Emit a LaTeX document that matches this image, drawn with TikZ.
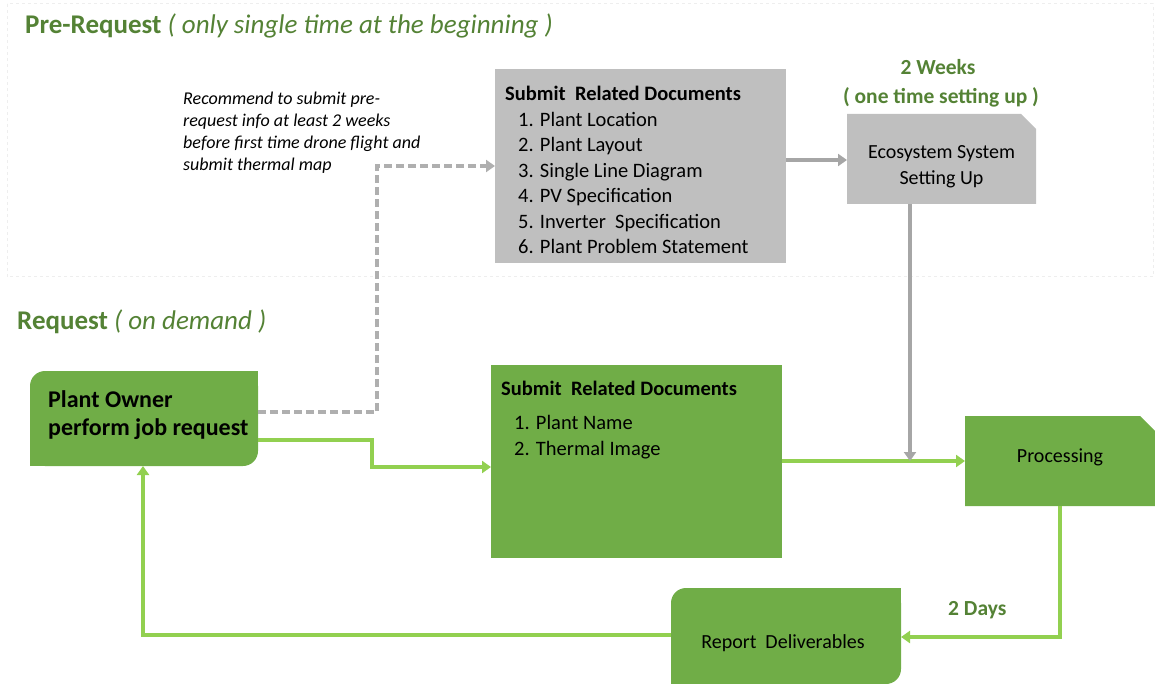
\documentclass[tikz,border=0pt]{standalone}
\usepackage{fontspec}
\setmainfont{Carlito}
\usetikzlibrary{arrows.meta}
\definecolor{boxgreen}{HTML}{70AD47}
\definecolor{linegreen}{HTML}{92D050}
\definecolor{titlegreen}{HTML}{548235}
\definecolor{boxgray}{HTML}{BFBFBF}
\definecolor{linegray}{HTML}{A6A6A6}
\definecolor{framegray}{HTML}{EEEEEE}
\begin{document}
\begin{tikzpicture}[x=1pt,y=-1pt,
  boxshape/.style={rectangle,inner sep=0pt,outer sep=0pt,minimum width=#1},
  gline/.style={draw=linegreen,line width=3.2pt,-{Triangle[width=12pt,length=9pt]}},
  grline/.style={draw=linegray,line width=3.2pt,-{Triangle[width=12pt,length=9pt]}},
  dline/.style={draw=linegray!90,line width=3.2pt,dash pattern=on 8pt off 4pt,-{Triangle[width=12pt,length=9pt]}},
  title/.style={text=titlegreen,inner sep=0pt,anchor=base west},
  body/.style={inner sep=0pt,text=black}]
\useasboundingbox (0,0) rectangle (1155,684);
% faint frame of the pre-request area
\draw[framegray,line width=1pt,dashed] (7,4) rectangle (1153,277);

% box nodes
\node[boxshape=291pt,minimum height=194pt] (docs) at (640.5,166) {};
\node[boxshape=189pt,minimum height=90pt] (eco) at (941.5,159) {};
\node[boxshape=228pt,minimum height=95pt] (po) at (144,418.5) {};
\node[boxshape=291pt,minimum height=193pt] (sub) at (636.5,461.5) {};
\node[boxshape=190pt,minimum height=90pt] (proc) at (1060,461) {};
\node[boxshape=230pt,minimum height=96pt] (rep) at (786,636) {};

% fills
\fill[boxgray] (docs.north west) rectangle (docs.south east);
\fill[boxgray] (eco.north west) -- ([xshift=-15pt]eco.north east) -- ([yshift=-15pt]eco.north east) -- (eco.south east) -- (eco.south west) -- cycle;
\fill[boxgreen] (proc.north west) -- ([xshift=-15pt]proc.north east) -- ([yshift=-15pt]proc.north east) -- (proc.south east) -- (proc.south west) -- cycle;
\fill[boxgreen] (sub.north west) rectangle (sub.south east);
\fill[boxgreen,rounded corners=15pt] (po.north west) rectangle (po.south east);
\fill[boxgreen] (po.north east) rectangle ([xshift=-20pt,yshift=-20pt]po.north east);
\fill[boxgreen] (po.south west) rectangle ([xshift=20pt,yshift=20pt]po.south west);
\fill[boxgreen,rounded corners=15pt] (rep.north west) rectangle (rep.south east);
\fill[boxgreen] (rep.north east) rectangle ([xshift=-20pt,yshift=-20pt]rep.north east);
\fill[boxgreen] (rep.south west) rectangle ([xshift=20pt,yshift=20pt]rep.south west);

% titles
\node[title,font=\fontsize{27}{30}\selectfont] (t1) at (25,34) {\textbf{Pre-Request} \textit{( only single time at the beginning )}};
\node[title,font=\fontsize{27}{30}\selectfont] (t2) at (17,329) {\textbf{Request} \textit{( on demand )}};
\node[text=titlegreen,inner sep=0pt,anchor=base,font=\fontsize{21.5}{28}\selectfont\bfseries] (wk) at (938,75) {2 Weeks};
\node[text=titlegreen,inner sep=0pt,anchor=base,font=\fontsize{21.5}{28}\selectfont\bfseries] (wk2) at (941,104) {( one time setting up )};
\node[title,font=\fontsize{21.5}{25}\selectfont\bfseries] (dy) at (948,615) {2 Days};

% note
\node[body,anchor=north west,align=left,font=\fontsize{18}{22}\selectfont\itshape] (note) at (183,92)
 {Recommend to submit pre-\\request info at least 2 weeks\\before first time drone flight and\\submit thermal map};

% box texts
\node[body,anchor=north west,align=left,font=\fontsize{20.5}{25.5}\selectfont] (docst) at (505,86)
 {\textbf{Submit\ \ Related Documents}\\
  \hspace*{13pt}1. Plant Location\\
  \hspace*{13pt}2. Plant Layout\\
  \hspace*{13pt}3. Single Line Diagram\\
  \hspace*{13pt}4. PV Specification\\
  \hspace*{13pt}5. Inverter\ \ Specification\\
  \hspace*{13pt}6. Plant Problem Statement};
\node[body,anchor=base west,font=\fontsize{20.5}{25.5}\selectfont\bfseries] (subt) at (501,395) {Submit\ \ Related Documents};
\node[body,anchor=north west,align=left,font=\fontsize{20.5}{26.5}\selectfont] (subl) at (514,415)
 {1. Plant Name\\2. Thermal Image};
\node[body,align=center,font=\fontsize{20}{26}\selectfont] (ecot) at (941.5,167) {Ecosystem System\\Setting Up};
\node[body,font=\fontsize{20}{26}\selectfont] (proct) at (1060,457) {Processing};
\node[body,font=\fontsize{20}{26}\selectfont] (rept) at (783,643) {Report\ \ Deliverables};
\node[body,anchor=north west,align=left,font=\fontsize{24}{28.5}\selectfont\bfseries] (pot) at (48,390) {Plant Owner\\perform job request};

% connectors
\coordinate (d1) at (377,412);
\coordinate (d2) at (377,166);
\draw[dline] (po.east |- d1) -- (d1) -- (d2) -- (docs.west |- d2);
\coordinate (g1) at (372,440);
\coordinate (g2) at (372,467);
\draw[gline] (po.east |- g1) -- (g1) -- (g2) -- (sub.west |- g2);
\coordinate (e1) at (786,160);
\draw[grline] (docs.east |- e1) -- (eco.west |- e1);
\draw[gline] (sub.east |- proc.west) -- (proc.west);
\coordinate (v1) at (910,461);
\draw[grline] (eco.south -| v1) -- (v1);
\coordinate (r1) at (1060,637);
\draw[gline] (proc.south) -- (r1) -- (rep.east |- r1);
\coordinate (l1) at (143,635);
\draw[gline] (rep.west |- l1) -- (l1) -- (po.south -| l1);
\end{tikzpicture}
\end{document}
